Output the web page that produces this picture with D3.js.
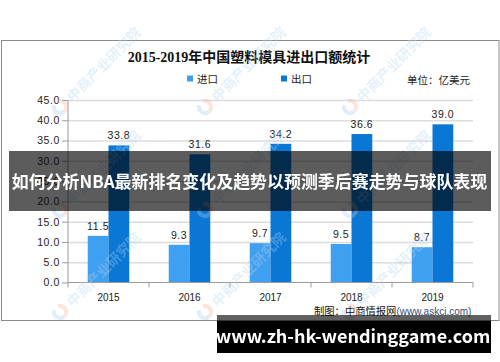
<!DOCTYPE html>
<html>
<head>
<meta charset="utf-8">
<script src="https://cdn.jsdelivr.net/npm/d3@7"></script>
<style>
html,body{margin:0;padding:0;background:#fff;}
svg{display:block;}
</style>
</head>
<body>
<svg id="chart" width="500" height="362"></svg>
<script>
const years = ["2015", "2016", "2017", "2018", "2019"];
const importVals = [11.5, 9.3, 9.7, 9.5, 8.7];
const exportVals = [33.8, 31.6, 34.2, 36.6, 39.0];
const yTicks = [0, 5, 10, 15, 20, 25, 30, 35, 40, 45];
const seriesNames = ["进口", "出口"];
const titleText = "2015-2019年中国塑料模具进出口额统计";
const unitText = "单位：亿美元";
const sourceText = "制图：中商情报网";
const sourceUrl = "(www.askci.com)";
const bannerText = "如何分析NBA最新排名变化及趋势以预测季后赛走势与球队表现";
const footerText = "www.zh-hk-wendinggame.com";
const watermarkText = "中商产业研究院";

const colors = {"进口": "#3f9ff0", "出口": "#0a77d4"};
const cjk = "'Noto Sans CJK SC', 'Noto Sans', sans-serif";
const num = "'Liberation Sans', Arial, sans-serif";

const svg = d3.select("#chart");

// chart frame
svg.append("rect").attr("x", 1.5).attr("y", 40.5).attr("width", 497.5).attr("height", 280)
  .attr("fill", "#fff").attr("stroke", "#8a8a8a").attr("stroke-width", 1);

const x = d3.scaleBand().domain(years).range([68, 473]).paddingInner(0).paddingOuter(0);
const xs = d3.scaleBand().domain(seriesNames).range([0, x.bandwidth()]).paddingInner(0).paddingOuter(0.95);
const y = d3.scaleLinear().domain([0, 45]).range([282.5, 100]);

// gridlines
svg.append("g").attr("transform", "translate(68,0)")
  .call(d3.axisLeft(y).tickValues(yTicks.slice(1)).tickSize(-405).tickFormat(""))
  .call(g => g.select(".domain").remove())
  .call(g => g.selectAll("line").attr("stroke", "#dcdcdc").attr("stroke-width", 1.5));

// title
svg.append("text").attr("x", 249).attr("y", 62).attr("text-anchor", "middle")
  .attr("font-family", "'Liberation Serif', 'Noto Sans CJK SC', serif").attr("font-weight", "bold")
  .attr("font-size", 14).attr("fill", "#111").text(titleText);

// legend
const legX = [187, 281];
seriesNames.forEach((s, i) => {
  svg.append("rect").attr("x", legX[i]).attr("y", 75.5).attr("width", 6).attr("height", 6).attr("fill", colors[s]);
  svg.append("text").attr("x", legX[i] + 10).attr("y", 82.5).attr("font-family", cjk)
    .attr("font-size", 10.5).attr("fill", "#222").text(s);
});
svg.append("text").attr("x", 407).attr("y", 84).attr("font-family", cjk)
  .attr("font-size", 10.5).attr("fill", "#222").text(unitText);

// bars
const data = years.map((yr, i) => ({year: yr, vals: [{s: "进口", v: importVals[i]}, {s: "出口", v: exportVals[i]}]}));
const groups = svg.append("g").selectAll("g").data(data).join("g")
  .attr("transform", d => `translate(${x(d.year)},0)`);
groups.selectAll("rect").data(d => d.vals).join("rect")
  .attr("x", d => xs(d.s)).attr("width", xs.bandwidth())
  .attr("y", d => y(d.v)).attr("height", d => y(0) - y(d.v))
  .attr("fill", d => colors[d.s]);
groups.selectAll("text").data(d => d.vals).join("text")
  .attr("x", d => xs(d.s) + xs.bandwidth() / 2).attr("y", d => y(d.v) - 6)
  .attr("text-anchor", "middle").attr("font-family", num).attr("font-size", 10.5)
  .attr("letter-spacing", 0.6).attr("fill", "#222").text(d => d.v.toFixed(1));

// y axis
svg.append("g").attr("transform", "translate(68,0)")
  .call(d3.axisLeft(y).tickValues(yTicks).tickSize(6).tickPadding(2).tickFormat(d3.format(".1f")))
  .call(g => g.select(".domain").attr("stroke", "#9a9a9a").attr("d", "M0,100V282.5"))
  .call(g => g.selectAll("line").attr("stroke", "#9a9a9a"))
  .call(g => g.selectAll("text").attr("font-family", num).attr("font-size", 10.5)
    .attr("letter-spacing", 0.6).attr("fill", "#222"));

// x axis
svg.append("g").attr("transform", "translate(0,282.5)")
  .call(d3.axisBottom(x).tickSize(0).tickPadding(11))
  .call(g => g.select(".domain").attr("stroke", "#9a9a9a").attr("d", "M68,0H473"))
  .call(g => g.selectAll("text").attr("font-family", num).attr("font-size", 10)
    .attr("fill", "#222"));
const bounds = years.map(d => x(d)).concat([x.range()[1]]);
svg.append("g").selectAll("line").data(bounds).join("line")
  .attr("x1", d => d).attr("x2", d => d).attr("y1", 282.5).attr("y2", 287.5)
  .attr("stroke", "#9a9a9a");

// source
const src = svg.append("text").attr("x", 314).attr("y", 315).attr("font-family", cjk).attr("font-size", 10.3);
src.append("tspan").attr("fill", "#111").text(sourceText);
src.append("tspan").attr("fill", "#3b4a78").attr("font-family", num).attr("font-size", 10).text(sourceUrl);

// watermarks (faint)
const wmX = [60, 205, 350];
const wmY = [107, 210, 312];
const wm = svg.append("g").attr("opacity", 0.35);
wmY.forEach(yy => wmX.forEach(xx => {
  const g = wm.append("g").attr("transform", `translate(${xx},${yy}) rotate(-45)`);
  g.append("path").attr("d", d3.arc()({innerRadius: 4, outerRadius: 8, startAngle: Math.PI * 0.15, endAngle: Math.PI * 1.0}))
    .attr("fill", "#f6b89a");
  g.append("path").attr("d", d3.arc()({innerRadius: 4, outerRadius: 8, startAngle: Math.PI * 1.0, endAngle: Math.PI * 1.85}))
    .attr("fill", "#a9cdef");
  g.append("text").attr("x", 12).attr("y", 6).attr("font-family", cjk).attr("font-weight", "bold")
    .attr("font-size", 14).attr("fill", "#b3d3f0").text(watermarkText);
}));

// banner overlay
svg.append("rect").attr("x", 9).attr("y", 151).attr("width", 482).attr("height", 60)
  .attr("fill", "rgba(0,0,0,0.64)");
const bt = svg.append("text").attr("x", 249.5).attr("y", 188).attr("text-anchor", "middle")
  .attr("font-family", cjk).attr("font-weight", "bold").attr("font-size", 18)
  .attr("fill", "#fff").text(bannerText);
const natural = bt.node().getComputedTextLength();
if (natural > 476) bt.attr("font-size", 18 * 476 / natural);

// footer banner
svg.append("rect").attr("x", 217).attr("y", 315).attr("width", 274).attr("height", 6)
  .attr("fill", "rgba(0,0,0,0.62)");
svg.append("rect").attr("x", 217).attr("y", 321).attr("width", 274).attr("height", 32)
  .attr("fill", "#000");
svg.append("text").attr("x", 353).attr("y", 343).attr("text-anchor", "middle")
  .attr("font-family", cjk).attr("font-weight", "bold").attr("font-size", 18)
  .attr("fill", "#fff").text(footerText);
</script>
</body>
</html>
